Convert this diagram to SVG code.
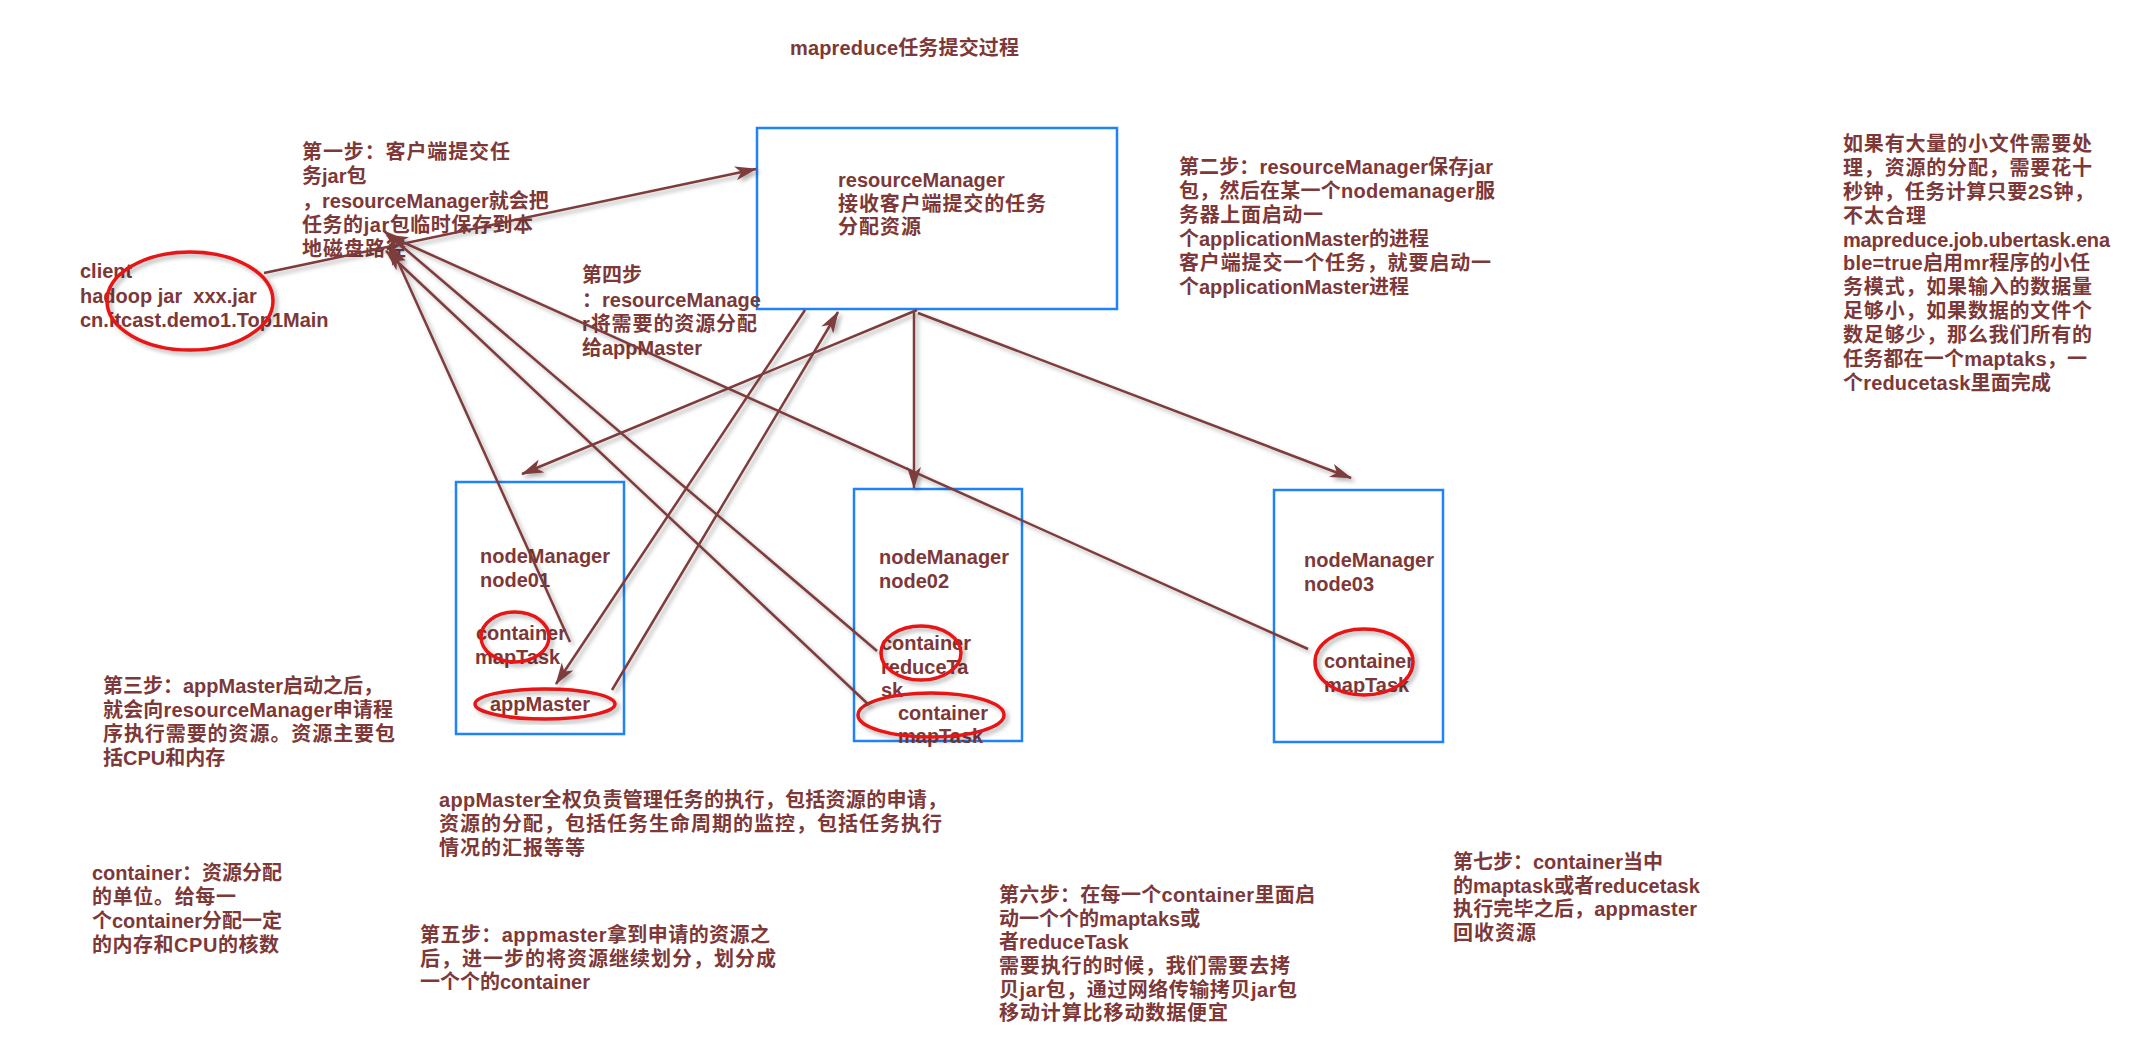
<svg xmlns="http://www.w3.org/2000/svg" width="2136" height="1048" viewBox="0 0 2136 1048">
<style>
text{font-family:"Liberation Sans","Noto Sans CJK SC",sans-serif;font-size:20px;font-weight:bold;fill:#7d3838}
.box{fill:none;stroke:#1e82fa;stroke-width:2.5}
.ring{fill:none;stroke:#e61414;stroke-width:3.5;filter:url(#sh)}
.conn path{fill:none;stroke:#7d3c3c;stroke-width:2.5;marker-end:url(#ah)}
</style>
<defs>
<filter id="sh" x="-20%" y="-20%" width="140%" height="140%">
<feDropShadow dx="3" dy="3" stdDeviation="2" flood-color="#000" flood-opacity="0.3"/>
</filter>
<marker id="ah" viewBox="0 0 22 14" refX="21" refY="7" markerWidth="22" markerHeight="14" markerUnits="userSpaceOnUse" orient="auto">
<path d="M0,0 L22,7 L0,14 L6,7 z" fill="#7d3c3c"/>
</marker>
</defs>
<rect width="2136" height="1048" fill="#fff"/>

<g id="title"><text x="790" y="55" textLength="229">mapreduce任务提交过程</text></g>

<g id="client">
<text x="80" y="278">client</text>
<text x="80" y="303" xml:space="preserve">hadoop jar  xxx.jar</text>
<text x="80" y="327">cn.itcast.demo1.Top1Main</text>
<ellipse class="ring" cx="190" cy="301" rx="83" ry="49"/>
</g>

<g id="resourceManager">
<rect class="box" x="757" y="128" width="360" height="181"/>
<text x="838" y="187">resourceManager</text>
<text x="838" y="211" textLength="208">接收客户端提交的任务</text>
<text x="838" y="234" textLength="83">分配资源</text>
</g>

<g id="node01">
<rect class="box" x="456" y="482" width="168" height="252"/>
<text x="480" y="563">nodeManager</text>
<text x="480" y="587">node01</text>
<text x="476" y="640">container</text>
<text x="475" y="664">mapTask</text>
<ellipse class="ring" cx="515" cy="637" rx="34" ry="25"/>
<text x="490" y="711">appMaster</text>
<ellipse class="ring" cx="545" cy="704" rx="70" ry="15"/>
</g>

<g id="node02">
<rect class="box" x="854" y="489" width="168" height="252"/>
<text x="879" y="564">nodeManager</text>
<text x="879" y="588">node02</text>
<text x="881" y="650">container</text>
<text x="881" y="674">reduceTa</text>
<text x="881" y="697">sk</text>
<ellipse class="ring" cx="921" cy="653" rx="40" ry="27"/>
<text x="898" y="720">container</text>
<text x="898" y="743">mapTask</text>
<ellipse class="ring" cx="931" cy="715" rx="73" ry="22"/>
</g>

<g id="node03">
<rect class="box" x="1274" y="490" width="169" height="252"/>
<text x="1304" y="567">nodeManager</text>
<text x="1304" y="591">node03</text>
<text x="1324" y="668">container</text>
<text x="1324" y="692">mapTask</text>
<ellipse class="ring" cx="1364" cy="662" rx="49" ry="33"/>
</g>

<g id="step1">
<text x="302" y="159" textLength="208">第一步：客户端提交任</text>
<text x="302" y="183">务jar包</text>
<text x="302" y="208">，resourceManager就会把</text>
<text x="302" y="232" textLength="231">任务的jar包临时保存到本</text>
<text x="302" y="256" textLength="104">地磁盘路径</text>
</g>

<g id="step2">
<text x="1179" y="174" textLength="314">第二步：resourceManager保存jar</text>
<text x="1179" y="198" textLength="316">包，然后在某一个nodemanager服</text>
<text x="1179" y="222" textLength="144">务器上面启动一</text>
<text x="1179" y="246">个applicationMaster的进程</text>
<text x="1179" y="270" textLength="312">客户端提交一个任务，就要启动一</text>
<text x="1179" y="294">个applicationMaster进程</text>
</g>

<g id="step3">
<text x="103" y="693">第三步：appMaster启动之后，</text>
<text x="103" y="717" textLength="290">就会向resourceManager申请程</text>
<text x="103" y="741" textLength="292">序执行需要的资源。资源主要包</text>
<text x="103" y="765">括CPU和内存</text>
</g>

<g id="step4">
<text x="582" y="282">第四步</text>
<text x="582" y="307">：resourceManage</text>
<text x="582" y="331" textLength="175">r将需要的资源分配</text>
<text x="582" y="355">给appMaster</text>
</g>

<g id="appMasterNote">
<text x="439" y="807" textLength="508">appMaster全权负责管理任务的执行，包括资源的申请，</text>
<text x="439" y="831" textLength="503">资源的分配，包括任务生命周期的监控，包括任务执行</text>
<text x="439" y="855" textLength="146">情况的汇报等等</text>
</g>

<g id="containerNote">
<text x="92" y="880">container：资源分配</text>
<text x="92" y="904" textLength="144">的单位。给每一</text>
<text x="92" y="928">个container分配一定</text>
<text x="92" y="952" textLength="187">的内存和CPU的核数</text>
</g>

<g id="step5">
<text x="420" y="942" textLength="350">第五步：appmaster拿到申请的资源之</text>
<text x="420" y="966" textLength="356">后，进一步的将资源继续划分，划分成</text>
<text x="420" y="989">一个个的container</text>
</g>

<g id="step6">
<text x="999" y="902" textLength="316">第六步：在每一个container里面启</text>
<text x="999" y="926">动一个个的maptaks或</text>
<text x="999" y="949">者reduceTask</text>
<text x="999" y="973" textLength="291">需要执行的时候，我们需要去拷</text>
<text x="999" y="997" textLength="298">贝jar包，通过网络传输拷贝jar包</text>
<text x="999" y="1020" textLength="229">移动计算比移动数据便宜</text>
</g>

<g id="step7">
<text x="1453" y="869">第七步：container当中</text>
<text x="1453" y="893">的maptask或者reducetask</text>
<text x="1453" y="916" textLength="244">执行完毕之后，appmaster</text>
<text x="1453" y="940" textLength="83">回收资源</text>
</g>

<g id="uberNote">
<text x="1843" y="151" textLength="249">如果有大量的小文件需要处</text>
<text x="1843" y="175" textLength="249">理，资源的分配，需要花十</text>
<text x="1843" y="199" textLength="251">秒钟，任务计算只要2S钟，</text>
<text x="1843" y="223" textLength="83">不太合理</text>
<text x="1843" y="247" textLength="267">mapreduce.job.ubertask.ena</text>
<text x="1843" y="270" textLength="247">ble=true启用mr程序的小任</text>
<text x="1843" y="294" textLength="249">务模式，如果输入的数据量</text>
<text x="1843" y="318" textLength="249">足够小，如果数据的文件个</text>
<text x="1843" y="342" textLength="249">数足够少，那么我们所有的</text>
<text x="1843" y="366" textLength="244">任务都在一个maptaks，一</text>
<text x="1843" y="390" textLength="208">个reducetask里面完成</text>
</g>

<g id="connectors" class="conn" filter="url(#sh)">
<path d="M264,273 L756,169"/>
<path d="M570,642 L390,244"/>
<path d="M869,705 L386,251"/>
<path d="M877,651 L384,231"/>
<path d="M1308,649 L387,235"/>
<path d="M917,310 L522,474"/>
<path d="M914,312 L914,488"/>
<path d="M918,313 L1351,478"/>
<path d="M612,690 L838,312"/>
<path d="M805,310 L556,684"/>
</g>
</svg>
